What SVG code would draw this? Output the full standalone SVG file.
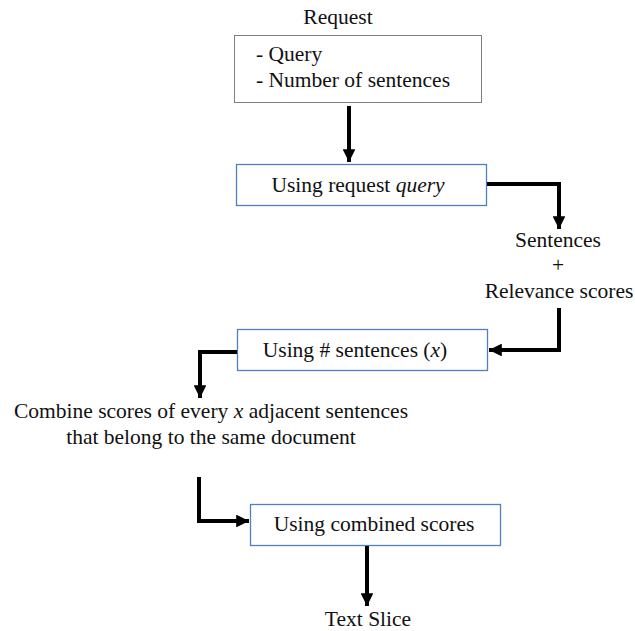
<svg xmlns="http://www.w3.org/2000/svg" width="635" height="631" viewBox="0 0 635 631">
  <style>
    text { font-family: 'Liberation Serif', serif; font-size: 21.5px; fill: #111; }
    .mid { text-anchor: middle; }
    .box { fill: #fff; stroke: #4f81bd; stroke-width: 1.3; }
    .gray { fill: #fff; stroke: #7f7f7f; stroke-width: 1; }
    .wire { fill: none; stroke: #000; stroke-width: 4; stroke-linejoin: miter; }
  </style>
  <defs>
    <marker id="head" viewBox="0 0 10 10" refX="10" refY="5" markerWidth="3.2" markerHeight="3.2" markerUnits="strokeWidth" orient="auto">
      <path d="M0,0 L10,5 L0,10 Z" fill="#000"/>
    </marker>
  </defs>
  <rect width="635" height="631" fill="#fff"/>

  <g id="request">
    <text class="mid" x="338" y="24">Request</text>
    <rect class="gray" x="234.5" y="35.5" width="247" height="67"/>
    <text x="256" y="61">- Query</text>
    <text x="256" y="87">- Number of sentences</text>
  </g>

  <g id="use-query">
    <rect class="box" x="236.5" y="164.5" width="250" height="41"/>
    <text class="mid" x="358" y="192">Using request <tspan font-style="italic">query</tspan></text>
  </g>

  <g id="scored-sentences">
    <text class="mid" x="558" y="247">Sentences</text>
    <text class="mid" x="558" y="272">+</text>
    <text class="mid" x="559" y="298">Relevance scores</text>
  </g>

  <g id="use-count">
    <rect class="box" x="237.5" y="329.5" width="250" height="41"/>
    <text class="mid" x="355" y="357">Using # sentences (<tspan font-style="italic">x</tspan>)</text>
  </g>

  <g id="combine">
    <text class="mid" x="211" y="418">Combine scores of every <tspan font-style="italic">x</tspan> adjacent sentences</text>
    <text class="mid" x="211" y="444">that belong to the same document</text>
  </g>

  <g id="use-combined">
    <rect class="box" x="250.5" y="504.5" width="250" height="41"/>
    <text class="mid" x="374" y="531">Using combined scores</text>
  </g>

  <g id="text-slice">
    <text class="mid" x="368" y="626">Text Slice</text>
  </g>

  <g id="connectors">
    <path class="wire" d="M349,106 V162" marker-end="url(#head)"/>
    <path class="wire" d="M487,184 H559 V229" marker-end="url(#head)"/>
    <path class="wire" d="M559,308 V350 H489" marker-end="url(#head)"/>
    <path class="wire" d="M237,352 H200 V398" marker-end="url(#head)"/>
    <path class="wire" d="M199,477 V521 H249" marker-end="url(#head)"/>
    <path class="wire" d="M367,546 V606" marker-end="url(#head)"/>
  </g>
</svg>
